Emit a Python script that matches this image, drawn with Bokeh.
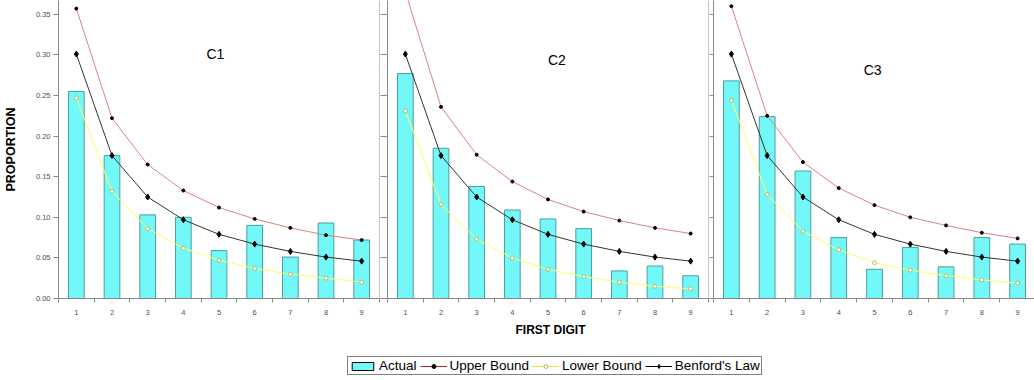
from bokeh.plotting import figure
from bokeh.models import (Range1d, FixedTicker, Label, Legend, LegendItem,
                          ColumnDataSource, CustomJSTickFormatter, Span,
                          NumeralTickFormatter)
from bokeh.layouts import column, row
from bokeh.embed import file_html
from bokeh.resources import INLINE

# ---------------- data ----------------
digits = [1, 2, 3, 4, 5, 6, 7, 8, 9]
benford = [0.301, 0.176, 0.125, 0.097, 0.079, 0.067, 0.058, 0.051, 0.046]

actual_c1 = [0.255, 0.176, 0.103, 0.100, 0.059, 0.090, 0.051, 0.093, 0.072]
upper_c1 = [0.357, 0.222, 0.165, 0.133, 0.112, 0.098, 0.087, 0.078, 0.072]
lower_c1 = [0.247, 0.132, 0.086, 0.062, 0.047, 0.037, 0.030, 0.025, 0.020]

actual_c2 = [0.277, 0.185, 0.138, 0.109, 0.098, 0.086, 0.034, 0.040, 0.028]
upper_c2 = [0.378, 0.236, 0.177, 0.144, 0.122, 0.107, 0.096, 0.087, 0.080]
lower_c2 = [0.231, 0.116, 0.073, 0.050, 0.036, 0.027, 0.020, 0.015, 0.012]

actual_c3 = [0.268, 0.224, 0.157, 0.075, 0.036, 0.063, 0.039, 0.075, 0.067]
upper_c3 = [0.360, 0.225, 0.168, 0.136, 0.115, 0.100, 0.090, 0.081, 0.074]
lower_c3 = [0.244, 0.128, 0.083, 0.060, 0.044, 0.035, 0.028, 0.023, 0.019]

panel_names = ["C1", "C2", "C3"]
y_ticks = [0.0, 0.05, 0.10, 0.15, 0.20, 0.25, 0.30, 0.35]
legend_labels = ["Actual", "Upper Bound", "Lower Bound", "Benford's Law"]
x_title = "FIRST DIGIT"
y_title = "PROPORTION"

# ---------------- style ----------------
FONT = "Liberation Sans"
BAR_FILL = "#72F8F8"
BAR_LINE = "#4E9E9E"
UP_COLOR = "#E08080"
LOW_COLOR = "#FFFF66"
LOW_MARK = "#A8A860"
BEN_COLOR = "#333333"
AXIS_COLOR = "#8A8A8A"
TICK_TEXT = "#505050"

FRAME_H = 298
Y_MAX = 0.367

# placement of the panel names (data coords) and panel geometry
name_pos = [(4.9, 0.301), (5.25, 0.294), (4.95, 0.282)]
frame_widths = [321, 321, 322]
left_borders = [53, 7, 4]
tick_out = [5, 7, 4]


def make_panel(i, actual, upper, lower):
    p = figure(frame_width=frame_widths[i], frame_height=FRAME_H,
               x_range=Range1d(0.5, 9.5), y_range=Range1d(0, Y_MAX),
               output_backend="svg", toolbar_location=None,
               min_border_left=left_borders[i], min_border_right=1,
               min_border_top=0, min_border_bottom=22)
    p.outline_line_color = None
    p.grid.visible = False
    p.background_fill_color = "white"
    p.border_fill_color = "white"

    src = ColumnDataSource(dict(digit=digits, actual=actual, upper=upper,
                                lower=lower, benford=benford))
    p.vbar(x="digit", top="actual", bottom=0, width=0.44, source=src,
           fill_color=BAR_FILL, line_color=BAR_LINE, line_width=1)
    p.line("digit", "upper", source=src, line_color=UP_COLOR, line_width=1)
    p.scatter("digit", "upper", source=src, marker="circle", size=3,
              fill_color="black", line_color="black")
    p.line("digit", "lower", source=src, line_color=LOW_COLOR, line_width=1)
    p.scatter("digit", "lower", source=src, marker="circle", size=4,
              fill_color="#FFFFE0", line_color=LOW_MARK, line_width=0.8)
    p.line("digit", "benford", source=src, line_color=BEN_COLOR, line_width=1)
    p.scatter("digit", "benford", source=src, marker="diamond", size=6,
              fill_color="black", line_color="black")

    # right frame border
    p.add_layout(Span(location=9.5, dimension="height",
                      line_color=AXIS_COLOR, line_width=1))

    nx, ny = name_pos[i]
    p.add_layout(Label(x=nx, y=ny, text=panel_names[i], text_align="center",
                       text_baseline="middle", text_font=FONT,
                       text_font_size="14px", text_color="black"))

    # x axis
    xa = p.xaxis[0]
    xa.ticker = FixedTicker(ticks=digits,
                            minor_ticks=[d - 0.5 for d in digits] + [digits[-1] + 0.5])
    xa.major_tick_out = 0
    xa.major_tick_in = 0
    xa.minor_tick_out = 4
    xa.minor_tick_in = 0
    xa.minor_tick_line_color = AXIS_COLOR
    xa.axis_line_color = AXIS_COLOR
    xa.major_label_standoff = 7
    xa.major_label_text_font = FONT
    xa.major_label_text_font_size = "7.5px"
    xa.major_label_text_color = TICK_TEXT

    # y axis
    ya = p.yaxis[0]
    ya.ticker = FixedTicker(ticks=y_ticks, minor_ticks=[])
    ya.axis_line_color = AXIS_COLOR
    ya.major_tick_line_color = AXIS_COLOR
    ya.major_tick_out = tick_out[i]
    ya.major_tick_in = 0
    ya.minor_tick_out = 0
    ya.minor_tick_in = 0
    if i == 0:
        ya.formatter = NumeralTickFormatter(format="0.00")
        ya.major_label_standoff = 3
        ya.major_label_text_font = FONT
        ya.major_label_text_font_size = "7.5px"
        ya.major_label_text_color = TICK_TEXT
        ya.axis_label = y_title
        ya.axis_label_text_font = FONT
        ya.axis_label_text_font_style = "bold"
        ya.axis_label_text_font_size = "12.5px"
        ya.axis_label_text_color = "black"
        ya.axis_label_standoff = 15
    else:
        ya.formatter = CustomJSTickFormatter(code="return ''")
        ya.major_label_standoff = 0
        ya.major_label_text_font_size = "1px"
    return p


p1 = make_panel(0, actual_c1, upper_c1, lower_c1)
p2 = make_panel(1, actual_c2, upper_c2, lower_c2)
p3 = make_panel(2, actual_c3, upper_c3, lower_c3)

# ---------------- bottom: x title + legend ----------------
LG_H = 60
lg = figure(width=1031, height=LG_H, x_range=Range1d(0, 1), y_range=Range1d(0, 1),
            output_backend="svg", toolbar_location=None,
            x_axis_location=None, y_axis_location=None,
            min_border_left=0, min_border_right=0, min_border_top=0,
            min_border_bottom=0)
lg.outline_line_color = None
lg.grid.visible = False

lg.add_layout(Label(x=550, y=LG_H - 9, x_units="screen", y_units="screen",
                    text=x_title, text_align="center", text_baseline="middle",
                    text_font=FONT, text_font_style="bold",
                    text_font_size="12px", text_color="black"))

# legend-only renderers (no visible data)
nan = float("nan")
dummy = ColumnDataSource(dict(x=[nan], y=[nan]))
r_act = lg.vbar(x="x", top="y", width=0.5, source=dummy,
                fill_color=BAR_FILL, line_color="black", line_width=1)
r_up_l = lg.line("x", "y", source=dummy, line_color="#C02828", line_width=1)
r_up_m = lg.scatter("x", "y", source=dummy, marker="circle", size=3,
                    fill_color="black", line_color="black")
r_lo_l = lg.line("x", "y", source=dummy, line_color="#E8E830", line_width=1)
r_lo_m = lg.scatter("x", "y", source=dummy, marker="circle", size=4,
                    fill_color="#FFFFE0", line_color=LOW_MARK, line_width=0.8)
r_be_l = lg.line("x", "y", source=dummy, line_color="black", line_width=1)
r_be_m = lg.scatter("x", "y", source=dummy, marker="diamond", size=7,
                    fill_color="black", line_color="black")

legend = Legend(items=[
    LegendItem(label=legend_labels[0], renderers=[r_act]),
    LegendItem(label=legend_labels[1], renderers=[r_up_l, r_up_m]),
    LegendItem(label=legend_labels[2], renderers=[r_lo_l, r_lo_m]),
    LegendItem(label=legend_labels[3], renderers=[r_be_l, r_be_m]),
], orientation="horizontal", location=(347, 5), margin=0, padding=1,
    spacing=3, glyph_width=27, glyph_height=10, label_standoff=3,
    label_text_font=FONT, label_text_font_size="13.5px",
    label_text_color="black", border_line_color="black", border_line_width=1,
    background_fill_color="white", background_fill_alpha=1.0)
lg.add_layout(legend, "center")

layout = column(row(p1, p2, p3), lg)

open("out.html", "w").write(file_html(layout, INLINE))
